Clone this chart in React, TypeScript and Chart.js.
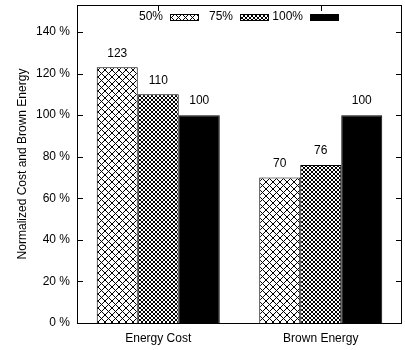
import React, { useEffect, useRef } from "react";
import { Chart, registerables } from "chart.js";

Chart.register(...registerables);

const categories = ["Energy Cost", "Brown Energy"];
const seriesNames = ["50%", "75%", "100%"];
const values50 = [123, 70];
const values75 = [110, 76];
const values100 = [100, 100];
const yMax = 153;
const yTickStep = 20;
const yTickLast = 140;

const FONT = "'Liberation Sans', Arial, Helvetica, sans-serif";

function makeHatch(size: number, lw: number): CanvasPattern | string {
  const c = document.createElement("canvas");
  c.width = size;
  c.height = size;
  const g = c.getContext("2d");
  if (!g) return "#888";
  g.fillStyle = "#fff";
  g.fillRect(0, 0, size, size);
  g.strokeStyle = "#000";
  g.lineWidth = lw;
  g.beginPath();
  g.moveTo(-1, -1);
  g.lineTo(size + 1, size + 1);
  g.moveTo(size + 1, -1);
  g.lineTo(-1, size + 1);
  g.stroke();
  const p = g.createPattern(c, "repeat");
  return p || "#888";
}

export default function App() {
  const ref = useRef<HTMLCanvasElement | null>(null);

  useEffect(() => {
    if (!ref.current) return;
    const pat50 = makeHatch(7, 1);
    const pat75 = makeHatch(4, 1);
    const fills = [pat50, pat75, "#000"];

    const framePlugin = {
      id: "frame",
      beforeDatasetsDraw(chart: any) {
        const { ctx, chartArea } = chart;
        const ys = chart.scales.y;
        const xs = chart.scales.x;
        ctx.save();
        ctx.strokeStyle = "#000";
        ctx.lineWidth = 1;
        ctx.beginPath();
        ys.ticks.forEach((t: any) => {
          const y = Math.round(ys.getPixelForValue(t.value)) + 0.5;
          ctx.moveTo(chartArea.left, y);
          ctx.lineTo(chartArea.left + 6, y);
          ctx.moveTo(chartArea.right, y);
          ctx.lineTo(chartArea.right - 6, y);
        });
        categories.forEach((_, i) => {
          const x = Math.round(xs.getPixelForValue(i)) + 0.5;
          ctx.moveTo(x, chartArea.top);
          ctx.lineTo(x, chartArea.top + 6);
          ctx.moveTo(x, chartArea.bottom);
          ctx.lineTo(x, chartArea.bottom - 6);
        });
        ctx.stroke();
        ctx.restore();
      },
      afterDatasetsDraw(chart: any) {
        const { ctx, chartArea } = chart;
        ctx.save();
        ctx.fillStyle = "#000";
        ctx.font = `12px ${FONT}`;
        ctx.textAlign = "center";
        ctx.textBaseline = "middle";
        chart.data.datasets.forEach((ds: any, di: number) => {
          const meta = chart.getDatasetMeta(di);
          meta.data.forEach((el: any, i: number) => {
            ctx.fillText(String(ds.data[i]), el.x, el.y - 14);
          });
        });
        ctx.strokeStyle = "#000";
        ctx.lineWidth = 1;
        ctx.strokeRect(
          Math.round(chartArea.left) + 0.5,
          Math.round(chartArea.top) + 0.5,
          Math.round(chartArea.right - chartArea.left) - 1,
          Math.round(chartArea.bottom - chartArea.top)
        );
        const boxW = 29;
        const boxH = 6;
        const pitch = 70;
        const startBox = 170;
        const ly = chartArea.top + 12;
        seriesNames.forEach((name, i) => {
          const bx = startBox + i * pitch;
          ctx.textAlign = "right";
          ctx.textBaseline = "middle";
          ctx.fillStyle = "#000";
          ctx.fillText(name, bx - 7, ly);
          ctx.fillStyle = fills[i] as any;
          ctx.fillRect(bx, ly - boxH / 2, boxW, boxH);
          ctx.strokeRect(bx + 0.5, Math.round(ly - boxH / 2) + 0.5, boxW - 1, boxH);
        });
        ctx.restore();
      },
    };

    const chart = new Chart(ref.current, {
      type: "bar",
      data: {
        labels: categories,
        datasets: [
          { label: seriesNames[0], data: values50, backgroundColor: pat50 as any },
          { label: seriesNames[1], data: values75, backgroundColor: pat75 as any },
          { label: seriesNames[2], data: values100, backgroundColor: "#000" },
        ].map((d) => ({
          ...d,
          borderColor: "#000",
          borderWidth: 1,
          barPercentage: 1,
          categoryPercentage: 0.757,
        })),
      },
      options: {
        animation: false,
        responsive: true,
        maintainAspectRatio: false,
        layout: { padding: { top: 5, right: 3, left: 0, bottom: 0 } },
        plugins: { legend: { display: false }, tooltip: { enabled: false } },
        scales: {
          x: {
            grid: { display: false, drawTicks: false },
            border: { display: false },
            ticks: { color: "#000", font: { size: 12, family: FONT }, padding: 8 },
            afterFit: (s: any) => {
              s.height = 27;
              s.paddingLeft = 0;
              s.paddingRight = 0;
            },
          },
          y: {
            min: 0,
            max: yMax,
            grid: { display: false, drawTicks: false },
            border: { display: false },
            ticks: {
              stepSize: yTickStep,
              color: "#000",
              font: { size: 12, family: FONT },
              padding: 7,
              callback: (v: any) => `${v} %`,
            },
            afterBuildTicks: (s: any) => {
              s.ticks = s.ticks.filter((t: any) => t.value <= yTickLast);
            },
            title: {
              display: true,
              text: "Normalized Cost and Brown Energy",
              color: "#000",
              font: { size: 12, family: FONT },
              padding: { top: 15, bottom: 0 },
            },
            afterFit: (s: any) => {
              s.width = 77;
              s.paddingTop = 0;
              s.paddingBottom = 0;
            },
          },
        },
      },
      plugins: [framePlugin],
    });
    return () => chart.destroy();
  }, []);

  return (
    <div style={{ position: "fixed", left: 0, top: 0, width: 405, height: 350, background: "#fff" }}>
      <canvas ref={ref} />
    </div>
  );
}
